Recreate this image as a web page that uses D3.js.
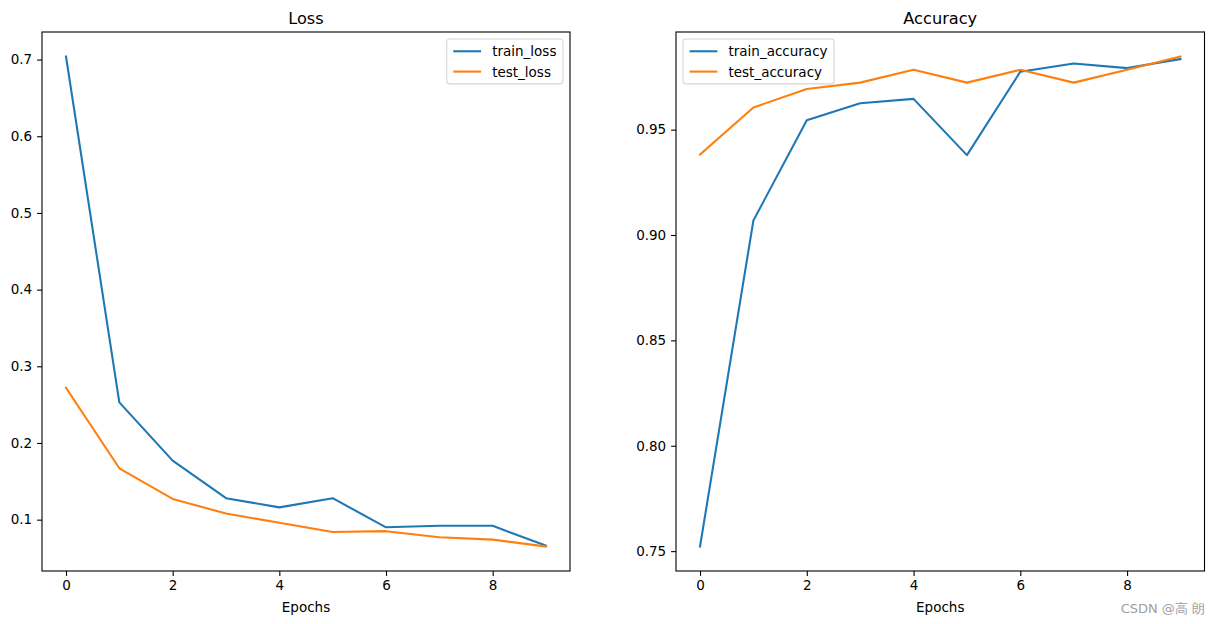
<!DOCTYPE html>
<html>
<head>
<meta charset="utf-8">
<script src="https://cdn.jsdelivr.net/npm/d3@7/dist/d3.min.js"></script>
<style>
  html, body { margin: 0; padding: 0; background: #fff; }
  svg { display: block; }
  text { font-family: "DejaVu Sans", sans-serif; fill: #000; }
</style>
</head>
<body>
<svg id="chart" width="1214" height="624"></svg>
<script>
// ---- data ----
const epochs = [0, 1, 2, 3, 4, 5, 6, 7, 8, 9];
const trainLoss = [0.704, 0.253, 0.177, 0.128, 0.116, 0.128, 0.090, 0.092, 0.092, 0.066];
const testLoss  = [0.272, 0.167, 0.127, 0.108, 0.096, 0.084, 0.085, 0.077, 0.074, 0.065];
const trainAcc  = [0.7522, 0.9069, 0.9544, 0.9625, 0.9646, 0.9379, 0.9775, 0.9814, 0.9792, 0.9835];
const testAcc   = [0.9382, 0.9605, 0.9693, 0.9723, 0.9784, 0.9723, 0.9784, 0.9723, 0.9784, 0.9847];
const xTicks = [0, 2, 4, 6, 8];
const lossTicks = [0.1, 0.2, 0.3, 0.4, 0.5, 0.6, 0.7];
const accTicks = [0.75, 0.80, 0.85, 0.90, 0.95];
const lossNames = ["train_loss", "test_loss"];
const accNames = ["train_accuracy", "test_accuracy"];
const titles = ["Loss", "Accuracy"];
const xLabel = "Epochs";
const watermark = "CSDN @高 朗";

// ---- style ----
const C1 = "#1f77b4", C2 = "#ff7f0e";
const FS = 13.5, TFS = 16.2;
const svg = d3.select("#chart");

function panel(opt) {
  const {x0, x1, y0, y1, series, names, yTicks, yFmt, title, legendPos} = opt;
  const g = svg.append("g");
  const all = series.flat();
  const mn = d3.min(all), mx = d3.max(all);
  const m = (mx - mn) * 0.05;
  const y = d3.scaleLinear().domain([mn - m, mx + m]).range([y1, y0]);
  const xm = (9 - 0) * 0.05;
  const x = d3.scaleLinear().domain([0 - xm, 9 + xm]).range([x0, x1]);

  const line = d3.line().x((d, i) => x(epochs[i])).y(d => y(d));
  const cols = [C1, C2];
  series.forEach((s, k) => {
    g.append("path").datum(s).attr("d", line)
      .attr("fill", "none").attr("stroke", cols[k]).attr("stroke-width", 2.08)
      .attr("stroke-linejoin", "round").attr("stroke-linecap", "square");
  });

  const xa = g.append("g").attr("transform", `translate(0,${y1})`)
    .call(d3.axisBottom(x).tickValues(xTicks).tickSize(4.9).tickPadding(4.9).tickFormat(d3.format("d")));
  const ya = g.append("g").attr("transform", `translate(${x0},0)`)
    .call(d3.axisLeft(y).tickValues(yTicks).tickSize(4.9).tickPadding(4.9).tickFormat(d3.format(yFmt)));
  [xa, ya].forEach(a => {
    a.select(".domain").remove();
    a.selectAll("line").attr("stroke", "#000").attr("stroke-width", 1.1);
    a.selectAll("text").attr("font-size", FS).attr("font-family", "DejaVu Sans, sans-serif").attr("fill", "#000");
  });

  g.append("rect").attr("x", x0).attr("y", y0).attr("width", x1 - x0).attr("height", y1 - y0)
    .attr("fill", "none").attr("stroke", "#000").attr("stroke-width", 1.1);

  g.append("text").attr("x", (x0 + x1) / 2).attr("y", y0 - 8.5).attr("text-anchor", "middle")
    .attr("font-size", TFS).text(title);
  g.append("text").attr("x", (x0 + x1) / 2).attr("y", 612).attr("text-anchor", "middle")
    .attr("font-size", FS).text(xLabel);

  const em = 13.9;
  const lg = g.append("g");
  const texts = names.map(n => lg.append("text").attr("font-size", FS).attr("dominant-baseline", "central").text(n));
  const tw = d3.max(texts, t => t.node().getComputedTextLength());
  const pad = 0.4 * em, hl = 2 * em, htp = 0.8 * em, rowH = 13.4, ls = 0.5 * em;
  const bw = pad + hl + htp + tw + pad + 2;
  const bh = pad * 2 + rowH * 2 + ls;
  const bx = legendPos === "right" ? x1 - 7 - bw : x0 + 7;
  const by = y0 + 7;
  lg.insert("rect", ":first-child").attr("x", bx).attr("y", by).attr("width", bw).attr("height", bh)
    .attr("rx", 3).attr("fill", "rgba(255,255,255,0.8)").attr("stroke", "#d6d6d6").attr("stroke-width", 1.1);
  names.forEach((n, k) => {
    const cy = by + pad + rowH / 2 + k * (rowH + ls);
    lg.append("line").attr("x1", bx + pad + 1).attr("x2", bx + pad + 1 + hl).attr("y1", cy).attr("y2", cy)
      .attr("stroke", cols[k]).attr("stroke-width", 2.08);
    texts[k].attr("x", bx + pad + 1 + hl + htp).attr("y", cy);
  });
}

panel({x0: 42, x1: 570, y0: 32, y1: 571, series: [trainLoss, testLoss], names: lossNames,
  yTicks: lossTicks, yFmt: ".1f", title: titles[0], legendPos: "right"});
panel({x0: 676, x1: 1204.5, y0: 32, y1: 571, series: [trainAcc, testAcc], names: accNames,
  yTicks: accTicks, yFmt: ".2f", title: titles[1], legendPos: "left"});

svg.append("text").attr("x", 1205).attr("y", 613).attr("text-anchor", "end")
  .attr("font-size", 13).attr("font-family", "Liberation Sans, Noto Sans CJK SC, sans-serif")
  .style("fill", "#a0a0a0").text(watermark);
</script>
</body>
</html>
